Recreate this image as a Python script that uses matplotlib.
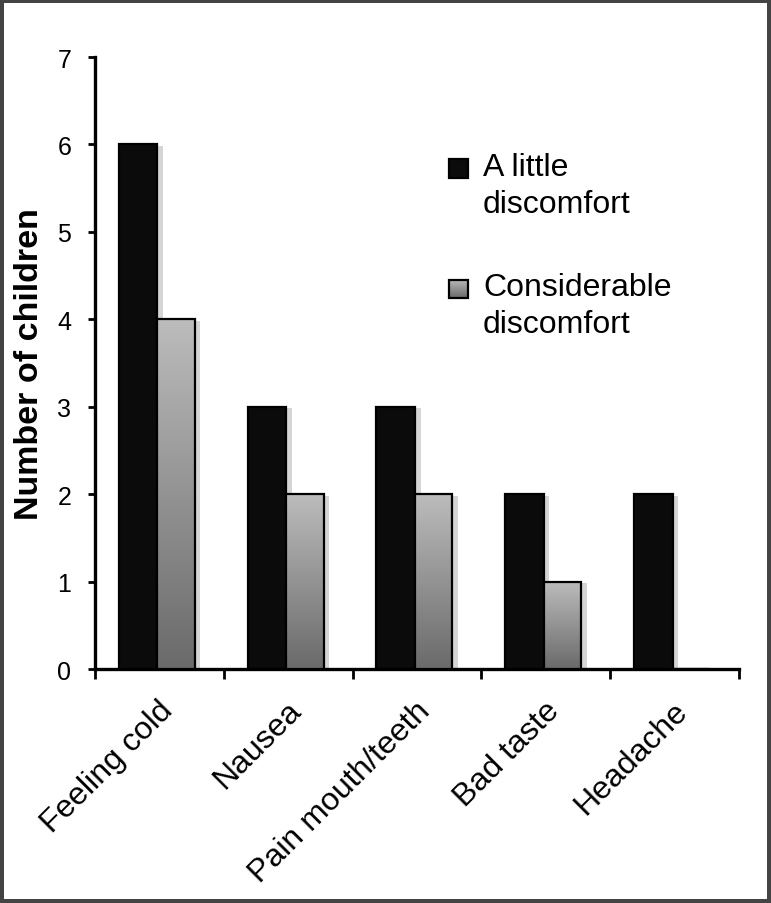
import numpy as np
import matplotlib
matplotlib.use('Agg')
import matplotlib.pyplot as plt
from matplotlib.patches import Rectangle
import matplotlib.patheffects as pe
from matplotlib.transforms import offset_copy

plt.rcParams['font.family'] = ['Liberation Sans', 'DejaVu Sans']

categories = ['Feeling cold', 'Nausea', 'Pain mouth/teeth', 'Bad taste', 'Headache']
little = [6, 3, 3, 2, 2]
considerable = [4, 2, 2, 1, 0]
series_names = ['A little\ndiscomfort', 'Considerable\ndiscomfort']

fig = plt.figure(figsize=(7.71, 9.04), dpi=100)
ax = fig.add_axes([0.1232, 0.2588, 0.8353, 0.677])

x = np.arange(len(categories))
shadow = [pe.SimplePatchShadow(offset=(4, -1), shadow_rgbFace='#888888', alpha=0.35), pe.Normal()]

bars1 = ax.bar(x - 0.165, little, 0.3, color='#0b0b0b', edgecolor='black', linewidth=1.6, zorder=3)
bars2 = ax.bar(x + 0.13, considerable, 0.29, color='none', edgecolor='black', linewidth=1.6, zorder=4)
for b in bars1:
    b.set_path_effects(shadow)

# gradient fill for the second series
grad = np.linspace(0, 1, 256).reshape(-1, 1)
cmap = matplotlib.colors.LinearSegmentedColormap.from_list('g', ['#6a6a6a', '#bcbcbc'])
for b in bars2:
    h = b.get_height()
    if h <= 0:
        continue
    bx, bw = b.get_x(), b.get_width()
    bg = Rectangle((bx, 0), bw, h, facecolor='white', edgecolor='none', zorder=2)
    ax.add_patch(bg)
    bg.set_path_effects([pe.SimplePatchShadow(offset=(4, -1), shadow_rgbFace='#888888', alpha=0.35)])
    im = ax.imshow(grad, extent=(bx, bx + bw, 0, h), origin='lower', cmap=cmap,
                   aspect='auto', zorder=3)
    im.set_clip_path(b)

ax.set_xlim(-0.5, 4.5)
ax.set_ylim(0, 7)
ax.set_xticks(np.arange(-0.5, 5, 1))
ax.set_xticklabels([])
ax.set_yticks(range(0, 8))
ax.tick_params(axis='y', labelsize=18, length=5, width=2, direction='out', pad=12)
ax.tick_params(axis='x', length=7, width=2, direction='out')
for s in ['top', 'right']:
    ax.spines[s].set_visible(False)
for s in ['left', 'bottom']:
    ax.spines[s].set_linewidth(2.4)

for i, c in enumerate(categories):
    tr = offset_copy(ax.get_xaxis_transform(), fig=fig, x=-2, y=-26, units='dots')
    ax.text(i, 0, c, transform=tr, rotation=45, ha='right', va='top',
            rotation_mode='anchor', fontsize=23)

ax.set_ylabel('Number of children', fontsize=24.5, fontweight='bold', labelpad=9)

# legend drawn by hand to keep the squares aligned with the first line
leg_colors = ['#0b0b0b', None]
sq_y = [0.8186, 0.621]
txt_y = [0.8445, 0.6480]
for name, col, sy, ty in zip(series_names, leg_colors, sq_y, txt_y):
    sq = Rectangle((0.5497, sy - 0.0155), 0.0295, 0.031, transform=ax.transAxes,
                   facecolor=col if col else 'none', edgecolor='black', linewidth=1.6, zorder=5)
    ax.add_patch(sq)
    if col is None:
        im = ax.imshow(grad, extent=(0.5497, 0.5792, sy - 0.0155, sy + 0.0155),
                       origin='lower', cmap=cmap, aspect='auto', zorder=4)
        im.set_transform(ax.transAxes)
        im.set_clip_path(sq)
    ax.text(0.6025, ty, name, transform=ax.transAxes, fontsize=23,
            va='top', ha='left', linespacing=1.3)

fig.patch.set_edgecolor('#444444')
fig.patch.set_linewidth(4.5)

fig.savefig('out.png', dpi=100, edgecolor=fig.get_edgecolor())
